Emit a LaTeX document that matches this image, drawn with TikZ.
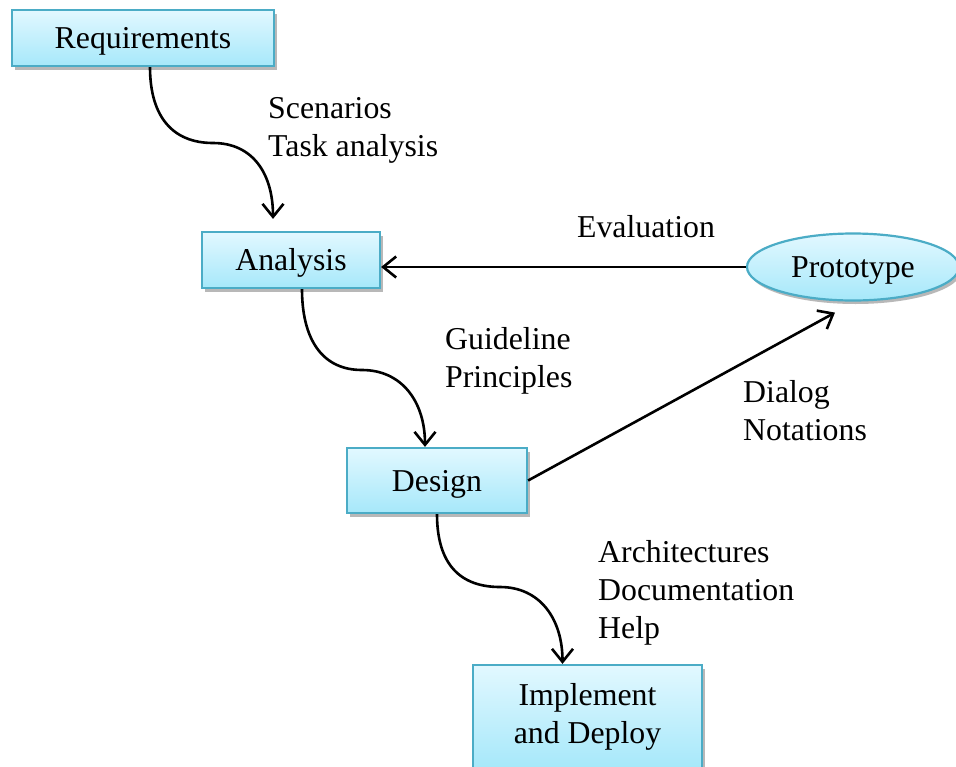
\documentclass[tikz,border=0pt]{standalone}
\usepackage{fontspec}
\setmainfont{Liberation Serif}
\usetikzlibrary{arrows.meta,shadows,shapes.geometric}
\definecolor{boxtop}{HTML}{E2F8FF}
\definecolor{boxbot}{HTML}{A6E8FA}
\definecolor{boxline}{HTML}{4BACC6}
\tikzset{
  stagebox/.style={rectangle, draw=boxline, line width=2.2pt, top color=boxtop, bottom color=boxbot,
    inner sep=0pt, align=center, font=\fontsize{31.8}{38}\selectfont,
    drop shadow={shadow xshift=2.5pt, shadow yshift=-3.5pt, fill=black, opacity=0.28}},
  onerow/.style={text height=21pt, text depth=0pt},
  protoshape/.style={ellipse, draw=boxline, line width=2.2pt, top color=boxtop, bottom color=boxbot,
    inner sep=0pt, font=\fontsize{31.8}{38}\selectfont,
    drop shadow={shadow xshift=2.5pt, shadow yshift=-3.5pt, fill=black, opacity=0.28}},
  lbl/.style={inner sep=0pt, align=left, anchor=west, font=\fontsize{31.8}{38}\selectfont},
  conn/.style={line width=2.6pt, -{Straight Barb[length=13pt,width=21pt,line width=2.6pt]}}
}
\begin{document}
\begin{tikzpicture}[x=1pt,y=-1pt]
\clip (0,0) rectangle (956,766);
\fill[white] (0,0) rectangle (956,766);
\node[stagebox, onerow, minimum width=262pt, minimum height=56pt] (req) at (143,38) {Requirements};
\node[stagebox, onerow, minimum width=178pt, minimum height=56pt] (ana) at (291,260) {Analysis};
\node[stagebox, onerow, minimum width=180pt, minimum height=65pt] (des) at (437,480.5) {Design};
\node[stagebox, minimum width=229pt, minimum height=104pt] (imp) at (587.5,717) {Implement\\and Deploy};
\node[protoshape, onerow, minimum width=212pt, minimum height=67pt] (pro) at (853,267) {Prototype};

\node[lbl] (l1) at (268,130.5) {Scenarios\\Task analysis};
\node[inner sep=0pt, font=\fontsize{31.8}{38}\selectfont] (l2) at (646,227) {Evaluation};
\node[lbl] (l3) at (445,361) {Guideline\\Principles};
\node[lbl] (l4) at (743,411) {Dialog\\Notations};
\node[lbl] (l5) at (598,593) {Architectures\\Documentation\\Help};

\coordinate (m1) at (213,143);
\coordinate (m2) at (362,370);
\coordinate (m3) at (500,587);
\coordinate (e1) at ([xshift=-18pt,yshift=12pt]ana.north);
\coordinate (e5) at ([xshift=-18pt,yshift=-11pt]pro.south);

\draw[conn] ([xshift=7pt]req.south) .. controls +(0,50) and +(-40,0) .. (m1)
   .. controls +(40,0) and +(0,-45) .. (e1);
\draw[conn] ([xshift=11pt]ana.south) .. controls +(0,50) and +(-40,0) .. (m2)
   .. controls +(40,0) and +(0,-45) .. ([xshift=-12pt]des.north);
\draw[conn] (des.south) .. controls +(0,50) and +(-40,0) .. (m3)
   .. controls +(40,0) and +(0,-45) .. ([xshift=-25pt]imp.north);
\draw[conn] (pro.west) -- (pro.west -| ana.east);
\draw[conn] (des.east) -- (e5);
\end{tikzpicture}
\end{document}
